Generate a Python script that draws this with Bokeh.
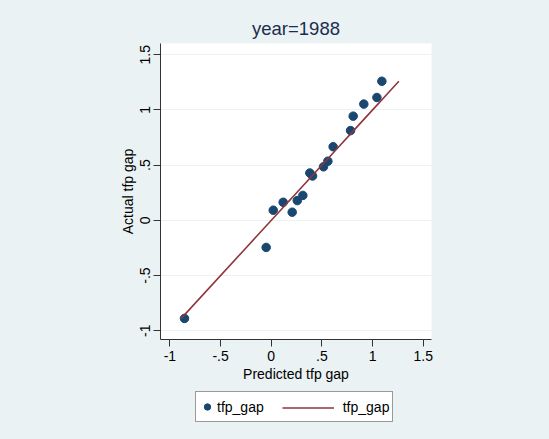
from bokeh.plotting import figure
from bokeh.models import FixedTicker, Legend, LegendItem, Range1d
from bokeh.layouts import column
from bokeh.embed import file_html
from bokeh.resources import INLINE

# Data (year=1988)
predicted = [-0.856, -0.05, 0.02, 0.118, 0.207, 0.257, 0.312, 0.381, 0.408,
             0.516, 0.559, 0.611, 0.783, 0.809, 0.914, 1.043, 1.092]
actual = [-0.888, -0.245, 0.092, 0.164, 0.074, 0.179, 0.226, 0.429, 0.402,
          0.485, 0.536, 0.667, 0.813, 0.944, 1.053, 1.113, 1.26]
tick_values = [-1, -0.5, 0, 0.5, 1, 1.5]
tick_labels = ["-1", "-.5", "0", ".5", "1", "1.5"]
title_text = "year=1988"
x_label = "Predicted tfp gap"
y_label = "Actual tfp gap"
series_name = "tfp_gap"

BG = "#eaf2f3"
NAVY = "#1a476f"
MAROON = "#90353b"
FONT = "Liberation Sans"
DOT_SIZE = 8.5
LINE_W = 1.6

# ---------------- main plot ----------------
p = figure(width=549, height=384, output_backend="svg", toolbar_location=None,
           x_range=Range1d(-1.093, 1.582), y_range=Range1d(-1.079, 1.602),
           min_border_left=160, min_border_right=118, min_border_top=43,
           min_border_bottom=41)
p.border_fill_color = BG
p.background_fill_color = "white"
p.outline_line_color = None

p.title.text = title_text
p.title.align = "center"
p.title.text_font = FONT
p.title.text_font_size = "18.5px"
p.title.text_font_style = "normal"
p.title.text_color = "#1c2d4f"

for ax in (p.xaxis[0], p.yaxis[0]):
    ax.ticker = FixedTicker(ticks=tick_values)
    ax.major_label_overrides = {v: l for v, l in zip(tick_values, tick_labels)}
    ax.major_label_text_font = FONT
    ax.major_label_text_font_size = "14px"
    ax.major_label_text_color = "black"
    ax.axis_label_text_font = FONT
    ax.axis_label_text_font_size = "14px"
    ax.axis_label_text_font_style = "normal"
    ax.axis_label_text_color = "black"
    ax.axis_line_color = "#333333"
    ax.major_tick_line_color = "#333333"
    ax.major_tick_out = 7
    ax.major_tick_in = 0
    ax.minor_tick_line_color = None

p.xaxis.axis_label = x_label
p.yaxis.axis_label = y_label
p.xaxis.major_label_standoff = 4
p.xaxis.axis_label_standoff = 2
p.yaxis.major_label_orientation = "vertical"
p.yaxis.major_label_standoff = 3
p.yaxis.axis_label_standoff = 2

p.xgrid.grid_line_color = None
p.ygrid.ticker = FixedTicker(ticks=tick_values)
p.ygrid.grid_line_color = BG
p.ygrid.grid_line_width = 1.2

p.scatter(predicted, actual, size=DOT_SIZE, fill_color=NAVY, line_color=NAVY)
line_xy = sorted(actual)
p.line(line_xy, line_xy, line_color=MAROON, line_width=LINE_W)

# ---------------- legend strip (frame aligned with main frame: x 160..431) ----
# The same series are drawn here only to feed the legend; the ranges keep them
# outside the strip's visible frame.
lg = figure(width=549, height=55, output_backend="svg", toolbar_location=None,
            x_range=Range1d(100, 101), y_range=Range1d(100, 101),
            x_axis_type=None, y_axis_type=None,
            min_border_left=160, min_border_right=118, min_border_top=0,
            min_border_bottom=0)
lg.border_fill_color = BG
lg.background_fill_color = BG
lg.outline_line_color = None
lg.xgrid.visible = False
lg.ygrid.visible = False

leg_dot = lg.scatter(predicted, actual, size=DOT_SIZE, fill_color=NAVY, line_color=NAVY)
leg_line_hidden = lg.line(line_xy, line_xy, line_color=MAROON, line_alpha=0)
leg_line = lg.line(line_xy, line_xy, line_color=MAROON, line_width=LINE_W)

box_legend = Legend(items=[LegendItem(label=series_name, renderers=[leg_dot]),
                           LegendItem(label=series_name, renderers=[leg_line_hidden])],
                    orientation="horizontal", location=(35, 17),
                    glyph_width=16, glyph_height=23, label_standoff=2, spacing=61,
                    padding=3, margin=0,
                    label_text_font=FONT, label_text_font_size="14px",
                    label_text_color="black",
                    border_line_color="#333333", border_line_width=1,
                    background_fill_color="white", background_fill_alpha=1)
line_legend = Legend(items=[LegendItem(label=" ", renderers=[leg_line])],
                     orientation="horizontal", location=(122, 22),
                     glyph_width=52, glyph_height=19, label_standoff=0,
                     padding=0, margin=0, label_text_font_size="14px",
                     border_line_color=None, background_fill_alpha=0)
lg.add_layout(box_legend)
lg.add_layout(line_legend)

layout = column(p, lg, spacing=0)
html = file_html(layout, INLINE)
html = html.replace("</head>", "<style>html, body { background: %s !important; }</style></head>" % BG, 1)
open("out.html", "w").write(html)
